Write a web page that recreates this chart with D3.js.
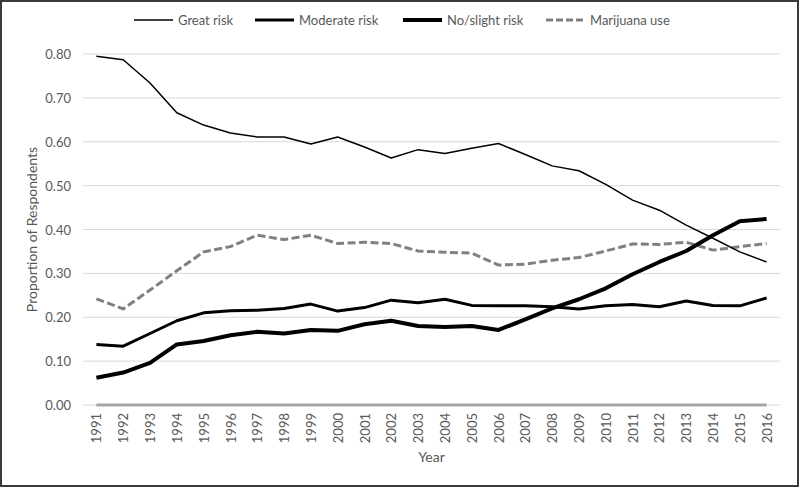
<!DOCTYPE html>
<html>
<head>
<meta charset="utf-8">
<script src="https://cdn.jsdelivr.net/npm/d3@7"></script>
<style>
  html, body { margin: 0; padding: 0; background: #fff; }
  svg { display: block; }
  text { font-family: Lato, "Open Sans", sans-serif; fill: #595959; }
</style>
</head>
<body>
<svg id="chart" width="800" height="488"></svg>
<script>
// ---- data ----
const years = [1991,1992,1993,1994,1995,1996,1997,1998,1999,2000,2001,2002,2003,2004,2005,2006,2007,2008,2009,2010,2011,2012,2013,2014,2015,2016];
const greatRisk = [0.795,0.787,0.734,0.666,0.638,0.620,0.611,0.611,0.595,0.611,0.588,0.563,0.582,0.573,0.585,0.596,0.571,0.545,0.534,0.503,0.467,0.444,0.410,0.380,0.349,0.326];
const moderateRisk = [0.138,0.134,0.163,0.192,0.210,0.215,0.216,0.220,0.230,0.214,0.222,0.239,0.233,0.241,0.227,0.226,0.226,0.224,0.219,0.226,0.229,0.224,0.237,0.227,0.226,0.244];
const noSlightRisk = [0.062,0.074,0.096,0.138,0.146,0.159,0.167,0.163,0.171,0.169,0.184,0.192,0.180,0.178,0.180,0.171,0.195,0.220,0.241,0.266,0.298,0.326,0.351,0.387,0.419,0.424];
const marijuanaUse = [0.242,0.219,0.262,0.306,0.349,0.361,0.387,0.377,0.387,0.368,0.371,0.368,0.351,0.348,0.346,0.319,0.321,0.330,0.336,0.351,0.367,0.366,0.371,0.353,0.361,0.368];
const baselineSeries = years.map(() => 0);
const yTicks = [0,0.1,0.2,0.3,0.4,0.5,0.6,0.7,0.8];
const seriesNames = ["Great risk","Moderate risk","No/slight risk","Marijuana use"];

(function () {
// ---- styles ----
const styles = {
  "Great risk":     { color: "#000000", width: 1.5, dash: null },
  "Moderate risk":  { color: "#000000", width: 3,   dash: null },
  "No/slight risk": { color: "#000000", width: 4,   dash: null },
  "Marijuana use":  { color: "#808080", width: 3,   dash: "8,3.5" }
};
const seriesData = {
  "Great risk": greatRisk,
  "Moderate risk": moderateRisk,
  "No/slight risk": noSlightRisk,
  "Marijuana use": marijuanaUse
};

const svg = d3.select("#chart");
const pLeft = 83, pRight = 780, pTop = 54, pBottom = 405;

const x = d3.scalePoint().domain(years).range([pLeft, pRight]).padding(0.5);
const y = d3.scaleLinear().domain([0, 0.8]).range([pBottom, pTop]);

// outer border
svg.append("rect").attr("x", 1).attr("y", 1).attr("width", 797).attr("height", 485)
  .attr("fill", "#fff").attr("stroke", "#3a3a3a").attr("stroke-width", 2);

// gridlines
svg.append("g").selectAll("line").data(yTicks).join("line")
  .attr("x1", pLeft).attr("x2", pRight)
  .attr("y1", d => y(d)).attr("y2", d => y(d))
  .attr("stroke", "#d9d9d9").attr("stroke-width", 1);

// y axis labels
const yAxis = d3.axisLeft(y).tickValues(yTicks).tickFormat(d3.format(".2f")).tickSize(0).tickPadding(0);
const gy = svg.append("g").attr("transform", `translate(71,0)`).call(yAxis);
gy.select(".domain").remove();
gy.selectAll("text").attr("font-size", 13).attr("fill", "#595959")
  .style("font-family", "Lato, 'Open Sans', sans-serif").attr("dy", "0.35em");

// x axis labels (rotated)
const xAxis = d3.axisBottom(x).tickSize(0).tickPadding(0);
const gx = svg.append("g").attr("transform", `translate(0,${pBottom})`).call(xAxis);
gx.select(".domain").remove();
gx.selectAll("text")
  .attr("font-size", 13).attr("fill", "#595959")
  .style("font-family", "Lato, 'Open Sans', sans-serif")
  .attr("text-anchor", "end")
  .attr("transform", "rotate(-90)")
  .attr("x", -8).attr("y", 0).attr("dy", "0.35em");

// baseline series at zero
const line = d3.line().x((d, i) => x(years[i])).y(d => y(d));
svg.append("path").datum(baselineSeries).attr("d", line)
  .attr("fill", "none").attr("stroke", "#a5a5a5").attr("stroke-width", 3);

// series lines
["Marijuana use","Moderate risk","No/slight risk","Great risk"].forEach(name => {
  const s = styles[name];
  svg.append("path").datum(seriesData[name]).attr("d", line)
    .attr("fill", "none").attr("stroke", s.color).attr("stroke-width", s.width)
    .attr("stroke-dasharray", s.dash).attr("stroke-linejoin", "round");
});

// axis titles
svg.append("text").attr("x", (pLeft + pRight) / 2).attr("y", 457)
  .attr("text-anchor", "middle").attr("dy", "0.35em").attr("font-size", 14).text("Year");
svg.append("text").attr("transform", `translate(32,${(pTop + pBottom) / 2}) rotate(-90)`)
  .attr("text-anchor", "middle").attr("dy", "0.35em").attr("font-size", 14).text("Proportion of Respondents");

// legend
const legendX = [134, 255, 403, 546];
const legendY = 20;
const lg = svg.append("g");
seriesNames.forEach((name, i) => {
  const s = styles[name];
  lg.append("line").attr("x1", legendX[i]).attr("x2", legendX[i] + 39)
    .attr("y1", legendY).attr("y2", legendY)
    .attr("stroke", s.color).attr("stroke-width", s.width)
    .attr("stroke-dasharray", s.dash ? "7,3" : null);
  lg.append("text").attr("x", legendX[i] + 44).attr("y", legendY)
    .attr("dy", "0.35em").attr("font-size", 13).text(name);
});
})();
</script>
</body>
</html>
